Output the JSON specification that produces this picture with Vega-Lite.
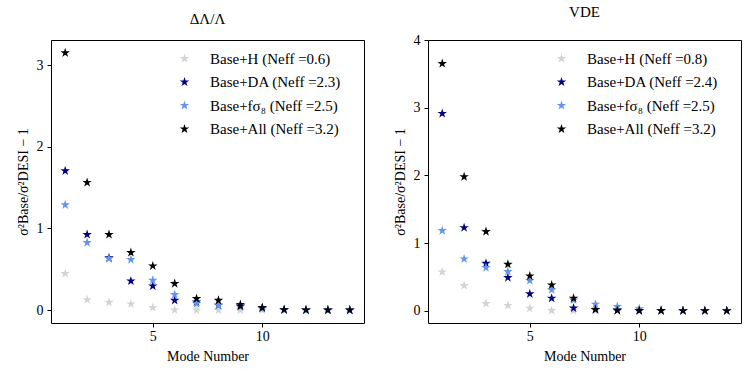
{
  "$schema": "https://vega.github.io/schema/vega-lite/v6.json",
  "padding": {"left": 15, "top": 4, "right": 5, "bottom": 5},
  "spacing": 27,
  "config": {
    "font": "Liberation Serif",
    "view": {"stroke": "black", "strokeWidth": 1},
    "axis": {"grid": false, "domain": false, "tickColor": "black", "tickSize": 4, "labelFont": "Liberation Serif", "labelFontSize": 14, "labelColor": "black", "titleFont": "Liberation Serif", "titleFontSize": 14, "titleFontWeight": "normal", "titleColor": "black", "labelPadding": 4, "titlePadding": 6},
    "axisX": {"labelPadding": 2},
    "title": {"font": "Liberation Serif", "fontSize": 15, "fontWeight": "normal", "offset": 13, "color": "black"},
    "legend": {"labelFont": "Liberation Serif", "labelFontSize": 15, "labelColor": "black", "symbolType": "M0,-1L0.2245,-0.309L0.951,-0.309L0.363,0.118L0.588,0.809L0,0.382L-0.588,0.809L-0.363,0.118L-0.951,-0.309L-0.2245,-0.309Z", "symbolSize": 100, "symbolStrokeWidth": 0, "labelOffset": 18, "rowPadding": 7.5, "padding": 0}
  },
  "resolve": {"scale": {"color": "independent"}},
  "hconcat": [
    {
      "width": 313,
      "height": 283,
      "title": "ΔΛ/Λ",
      "data": {"values": [
        {"mode": 1, "s": "Base+H (Neff =0.6)", "v": 0.447},
        {"mode": 2, "s": "Base+H (Neff =0.6)", "v": 0.128},
        {"mode": 3, "s": "Base+H (Neff =0.6)", "v": 0.096},
        {"mode": 4, "s": "Base+H (Neff =0.6)", "v": 0.076},
        {"mode": 5, "s": "Base+H (Neff =0.6)", "v": 0.032},
        {"mode": 6, "s": "Base+H (Neff =0.6)", "v": 0.002},
        {"mode": 7, "s": "Base+H (Neff =0.6)", "v": 0.001},
        {"mode": 8, "s": "Base+H (Neff =0.6)", "v": 0.001},
        {"mode": 9, "s": "Base+H (Neff =0.6)", "v": 0.0},
        {"mode": 10, "s": "Base+H (Neff =0.6)", "v": 0.0},
        {"mode": 11, "s": "Base+H (Neff =0.6)", "v": 0.0},
        {"mode": 12, "s": "Base+H (Neff =0.6)", "v": 0.0},
        {"mode": 13, "s": "Base+H (Neff =0.6)", "v": 0.0},
        {"mode": 14, "s": "Base+H (Neff =0.6)", "v": 0.0},
        {"mode": 1, "s": "Base+DA (Neff =2.3)", "v": 1.705},
        {"mode": 2, "s": "Base+DA (Neff =2.3)", "v": 0.925},
        {"mode": 3, "s": "Base+DA (Neff =2.3)", "v": 0.64},
        {"mode": 4, "s": "Base+DA (Neff =2.3)", "v": 0.357},
        {"mode": 5, "s": "Base+DA (Neff =2.3)", "v": 0.296},
        {"mode": 6, "s": "Base+DA (Neff =2.3)", "v": 0.12},
        {"mode": 7, "s": "Base+DA (Neff =2.3)", "v": 0.10},
        {"mode": 8, "s": "Base+DA (Neff =2.3)", "v": 0.06},
        {"mode": 9, "s": "Base+DA (Neff =2.3)", "v": 0.07},
        {"mode": 10, "s": "Base+DA (Neff =2.3)", "v": 0.03},
        {"mode": 11, "s": "Base+DA (Neff =2.3)", "v": 0.005},
        {"mode": 12, "s": "Base+DA (Neff =2.3)", "v": 0.002},
        {"mode": 13, "s": "Base+DA (Neff =2.3)", "v": 0.001},
        {"mode": 14, "s": "Base+DA (Neff =2.3)", "v": 0.001},
        {"mode": 1, "s": "Base+fσ₈ (Neff =2.5)", "v": 1.289},
        {"mode": 2, "s": "Base+fσ₈ (Neff =2.5)", "v": 0.827},
        {"mode": 3, "s": "Base+fσ₈ (Neff =2.5)", "v": 0.631},
        {"mode": 4, "s": "Base+fσ₈ (Neff =2.5)", "v": 0.619},
        {"mode": 5, "s": "Base+fσ₈ (Neff =2.5)", "v": 0.365},
        {"mode": 6, "s": "Base+fσ₈ (Neff =2.5)", "v": 0.19},
        {"mode": 7, "s": "Base+fσ₈ (Neff =2.5)", "v": 0.08},
        {"mode": 8, "s": "Base+fσ₈ (Neff =2.5)", "v": 0.06},
        {"mode": 9, "s": "Base+fσ₈ (Neff =2.5)", "v": 0.04},
        {"mode": 10, "s": "Base+fσ₈ (Neff =2.5)", "v": 0.02},
        {"mode": 11, "s": "Base+fσ₈ (Neff =2.5)", "v": 0.003},
        {"mode": 12, "s": "Base+fσ₈ (Neff =2.5)", "v": 0.001},
        {"mode": 13, "s": "Base+fσ₈ (Neff =2.5)", "v": 0.001},
        {"mode": 14, "s": "Base+fσ₈ (Neff =2.5)", "v": 0.0},
        {"mode": 1, "s": "Base+All (Neff =3.2)", "v": 3.149},
        {"mode": 2, "s": "Base+All (Neff =3.2)", "v": 1.562},
        {"mode": 3, "s": "Base+All (Neff =3.2)", "v": 0.925},
        {"mode": 4, "s": "Base+All (Neff =3.2)", "v": 0.705},
        {"mode": 5, "s": "Base+All (Neff =3.2)", "v": 0.541},
        {"mode": 6, "s": "Base+All (Neff =3.2)", "v": 0.325},
        {"mode": 7, "s": "Base+All (Neff =3.2)", "v": 0.141},
        {"mode": 8, "s": "Base+All (Neff =3.2)", "v": 0.12},
        {"mode": 9, "s": "Base+All (Neff =3.2)", "v": 0.051},
        {"mode": 10, "s": "Base+All (Neff =3.2)", "v": 0.03},
        {"mode": 11, "s": "Base+All (Neff =3.2)", "v": 0.006},
        {"mode": 12, "s": "Base+All (Neff =3.2)", "v": 0.003},
        {"mode": 13, "s": "Base+All (Neff =3.2)", "v": 0.002},
        {"mode": 14, "s": "Base+All (Neff =3.2)", "v": 0.002}
      ]},
      "mark": {"type": "point", "shape": "M0,-1L0.2245,-0.309L0.951,-0.309L0.363,0.118L0.588,0.809L0,0.382L-0.588,0.809L-0.363,0.118L-0.951,-0.309L-0.2245,-0.309Z", "filled": true, "size": 100, "opacity": 1},
      "encoding": {
        "x": {"field": "mode", "type": "quantitative", "scale": {"domain": [0.35, 14.65], "nice": false, "zero": false}, "axis": {"values": [5, 10], "title": "Mode Number"}},
        "y": {"field": "v", "type": "quantitative", "scale": {"domain": [-0.157, 3.306], "nice": false, "zero": false}, "axis": {"values": [0, 1, 2, 3], "title": "σ²Base/σ²DESI − 1"}},
        "color": {"field": "s", "type": "nominal", "sort": null, "title": null, "scale": {"domain": ["Base+H (Neff =0.6)", "Base+DA (Neff =2.3)", "Base+fσ₈ (Neff =2.5)", "Base+All (Neff =3.2)"], "range": ["#d3d3d3", "#000080", "#6495ed", "#000000"]}, "legend": {"orient": "none", "legendX": 126, "legendY": 11}}
      }
    },
    {
      "width": 313,
      "height": 283,
      "title": "VDE",
      "data": {"values": [
        {"mode": 1, "s": "Base+H (Neff =0.8)", "v": 0.574},
        {"mode": 2, "s": "Base+H (Neff =0.8)", "v": 0.373},
        {"mode": 3, "s": "Base+H (Neff =0.8)", "v": 0.107},
        {"mode": 4, "s": "Base+H (Neff =0.8)", "v": 0.078},
        {"mode": 5, "s": "Base+H (Neff =0.8)", "v": 0.038},
        {"mode": 6, "s": "Base+H (Neff =0.8)", "v": 0.005},
        {"mode": 7, "s": "Base+H (Neff =0.8)", "v": 0.002},
        {"mode": 8, "s": "Base+H (Neff =0.8)", "v": 0.001},
        {"mode": 9, "s": "Base+H (Neff =0.8)", "v": 0.0},
        {"mode": 10, "s": "Base+H (Neff =0.8)", "v": 0.0},
        {"mode": 11, "s": "Base+H (Neff =0.8)", "v": 0.0},
        {"mode": 12, "s": "Base+H (Neff =0.8)", "v": 0.0},
        {"mode": 13, "s": "Base+H (Neff =0.8)", "v": 0.0},
        {"mode": 14, "s": "Base+H (Neff =0.8)", "v": 0.0},
        {"mode": 1, "s": "Base+DA (Neff =2.4)", "v": 2.914},
        {"mode": 2, "s": "Base+DA (Neff =2.4)", "v": 1.228},
        {"mode": 3, "s": "Base+DA (Neff =2.4)", "v": 0.702},
        {"mode": 4, "s": "Base+DA (Neff =2.4)", "v": 0.49},
        {"mode": 5, "s": "Base+DA (Neff =2.4)", "v": 0.25},
        {"mode": 6, "s": "Base+DA (Neff =2.4)", "v": 0.186},
        {"mode": 7, "s": "Base+DA (Neff =2.4)", "v": 0.04},
        {"mode": 8, "s": "Base+DA (Neff =2.4)", "v": 0.02},
        {"mode": 9, "s": "Base+DA (Neff =2.4)", "v": 0.01},
        {"mode": 10, "s": "Base+DA (Neff =2.4)", "v": 0.003},
        {"mode": 11, "s": "Base+DA (Neff =2.4)", "v": 0.001},
        {"mode": 12, "s": "Base+DA (Neff =2.4)", "v": 0.0},
        {"mode": 13, "s": "Base+DA (Neff =2.4)", "v": 0.0},
        {"mode": 14, "s": "Base+DA (Neff =2.4)", "v": 0.0},
        {"mode": 1, "s": "Base+fσ₈ (Neff =2.5)", "v": 1.184},
        {"mode": 2, "s": "Base+fσ₈ (Neff =2.5)", "v": 0.766},
        {"mode": 3, "s": "Base+fσ₈ (Neff =2.5)", "v": 0.638},
        {"mode": 4, "s": "Base+fσ₈ (Neff =2.5)", "v": 0.58},
        {"mode": 5, "s": "Base+fσ₈ (Neff =2.5)", "v": 0.447},
        {"mode": 6, "s": "Base+fσ₈ (Neff =2.5)", "v": 0.31},
        {"mode": 7, "s": "Base+fσ₈ (Neff =2.5)", "v": 0.16},
        {"mode": 8, "s": "Base+fσ₈ (Neff =2.5)", "v": 0.097},
        {"mode": 9, "s": "Base+fσ₈ (Neff =2.5)", "v": 0.063},
        {"mode": 10, "s": "Base+fσ₈ (Neff =2.5)", "v": 0.03},
        {"mode": 11, "s": "Base+fσ₈ (Neff =2.5)", "v": 0.005},
        {"mode": 12, "s": "Base+fσ₈ (Neff =2.5)", "v": 0.002},
        {"mode": 13, "s": "Base+fσ₈ (Neff =2.5)", "v": 0.001},
        {"mode": 14, "s": "Base+fσ₈ (Neff =2.5)", "v": 0.0},
        {"mode": 1, "s": "Base+All (Neff =3.2)", "v": 3.652},
        {"mode": 2, "s": "Base+All (Neff =3.2)", "v": 1.98},
        {"mode": 3, "s": "Base+All (Neff =3.2)", "v": 1.17},
        {"mode": 4, "s": "Base+All (Neff =3.2)", "v": 0.687},
        {"mode": 5, "s": "Base+All (Neff =3.2)", "v": 0.515},
        {"mode": 6, "s": "Base+All (Neff =3.2)", "v": 0.382},
        {"mode": 7, "s": "Base+All (Neff =3.2)", "v": 0.186},
        {"mode": 8, "s": "Base+All (Neff =3.2)", "v": 0.02},
        {"mode": 9, "s": "Base+All (Neff =3.2)", "v": 0.006},
        {"mode": 10, "s": "Base+All (Neff =3.2)", "v": 0.004},
        {"mode": 11, "s": "Base+All (Neff =3.2)", "v": 0.003},
        {"mode": 12, "s": "Base+All (Neff =3.2)", "v": 0.002},
        {"mode": 13, "s": "Base+All (Neff =3.2)", "v": 0.002},
        {"mode": 14, "s": "Base+All (Neff =3.2)", "v": 0.002}
      ]},
      "mark": {"type": "point", "shape": "M0,-1L0.2245,-0.309L0.951,-0.309L0.363,0.118L0.588,0.809L0,0.382L-0.588,0.809L-0.363,0.118L-0.951,-0.309L-0.2245,-0.309Z", "filled": true, "size": 100, "opacity": 1},
      "encoding": {
        "x": {"field": "mode", "type": "quantitative", "scale": {"domain": [0.35, 14.65], "nice": false, "zero": false}, "axis": {"values": [5, 10], "title": "Mode Number"}},
        "y": {"field": "v", "type": "quantitative", "scale": {"domain": [-0.18, 4.0], "nice": false, "zero": false}, "axis": {"values": [0, 1, 2, 3, 4], "title": "σ²Base/σ²DESI − 1"}},
        "color": {"field": "s", "type": "nominal", "sort": null, "title": null, "scale": {"domain": ["Base+H (Neff =0.8)", "Base+DA (Neff =2.4)", "Base+fσ₈ (Neff =2.5)", "Base+All (Neff =3.2)"], "range": ["#d3d3d3", "#000080", "#6495ed", "#000000"]}, "legend": {"orient": "none", "legendX": 126, "legendY": 11}}
      }
    }
  ]
}
